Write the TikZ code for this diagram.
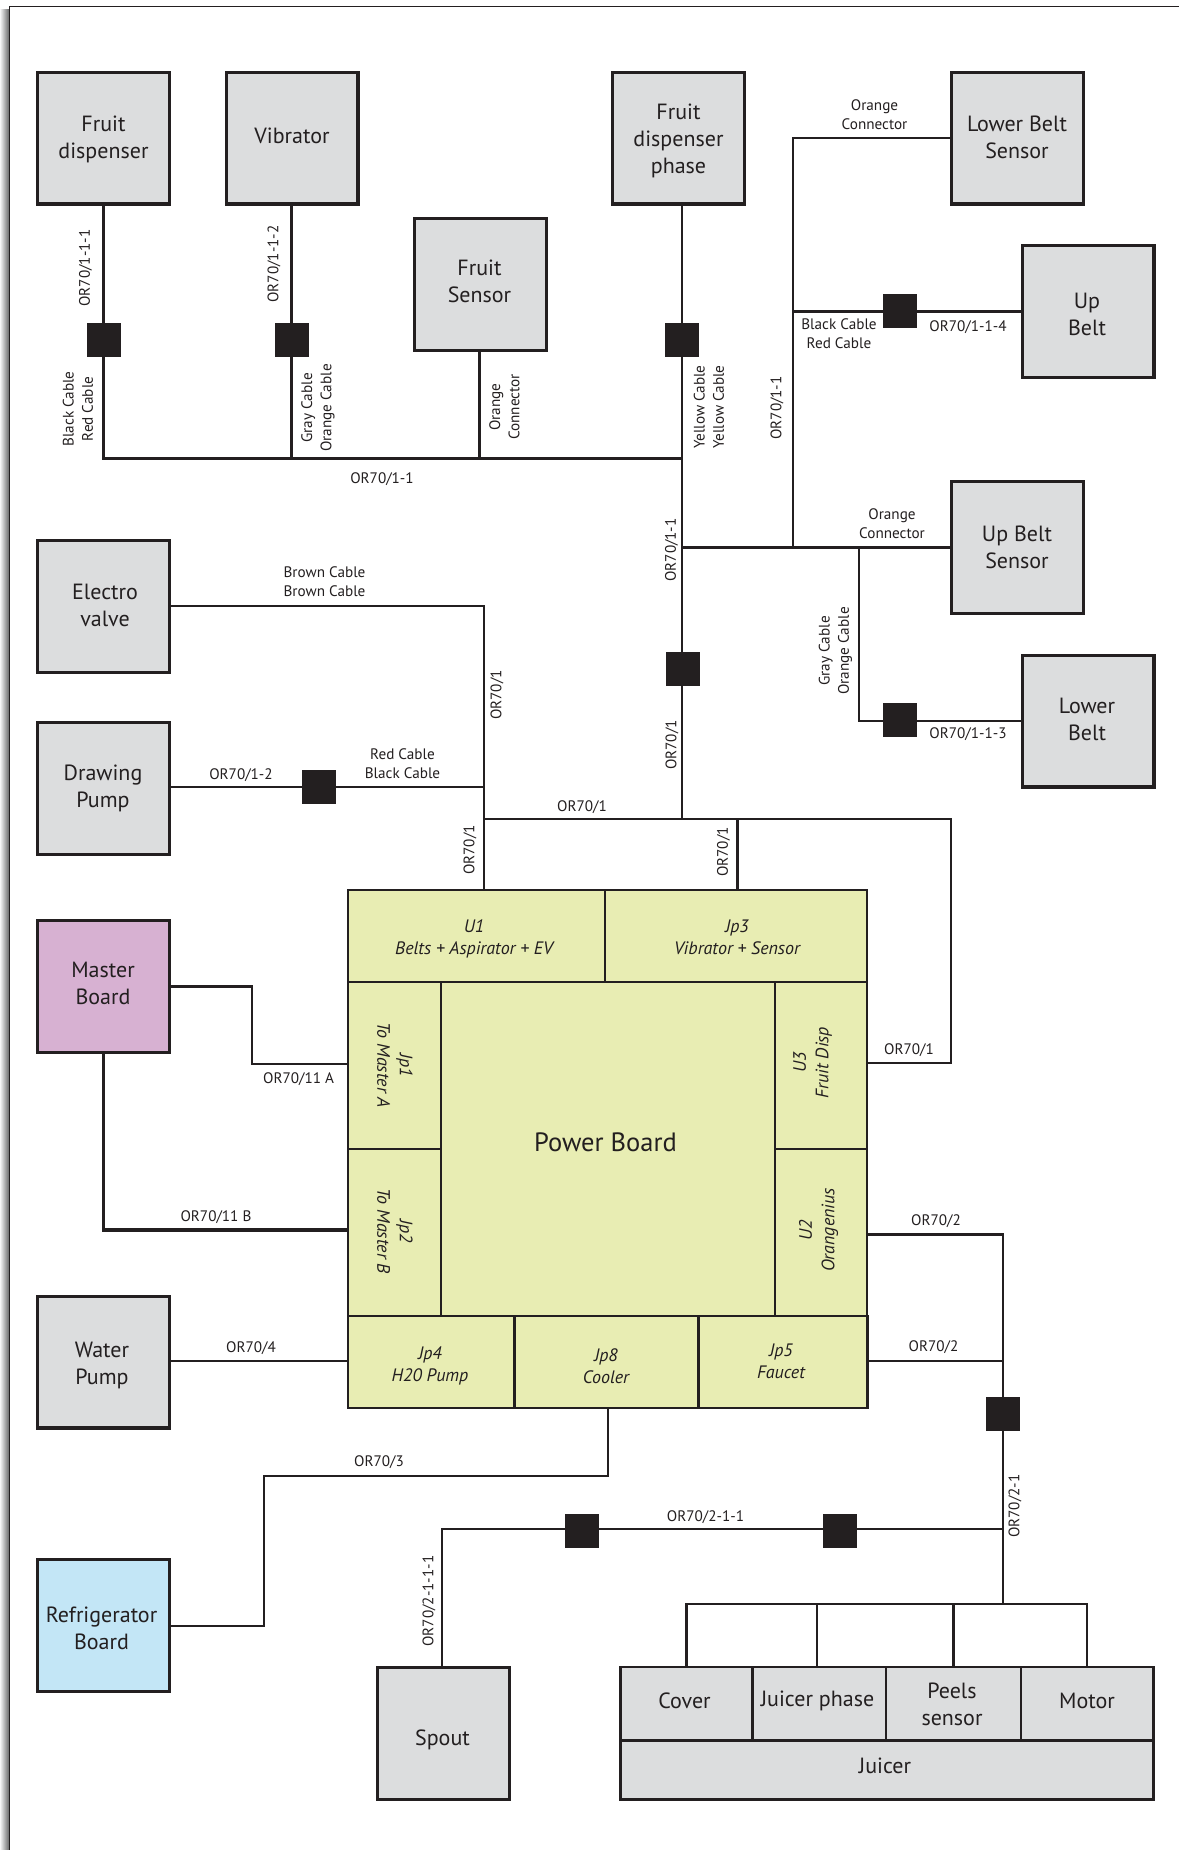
\documentclass[tikz,border=0pt]{standalone}
\usepackage{fontspec}
\setmainfont{PT Sans}
\definecolor{ink}{HTML}{231F20}
\definecolor{boxgray}{HTML}{DCDDDE}
\definecolor{boardgreen}{HTML}{E8EDB3}
\definecolor{masterpink}{HTML}{D7B1D2}
\definecolor{fridgeblue}{HTML}{C3E6F6}
\tikzset{
  devbox/.style={draw=ink,line width=3.2pt,fill=boxgray,inner sep=0pt,outer sep=0pt,minimum width=131.8pt,minimum height=131.8pt},
  devtext/.style={text=ink,align=center,inner sep=0pt,font=\fontsize{22}{27}\selectfont},
  cell/.style={draw=ink,line width=2.6pt,fill=boardgreen,inner sep=0pt,outer sep=0pt},
  jcell/.style={draw=ink,line width=2.8pt,fill=boxgray,inner sep=0pt,outer sep=0pt},
  celltext/.style={text=ink,align=center,inner sep=0pt,font=\fontsize{18}{22.5}\selectfont\itshape},
  wire/.style={draw=ink,line width=2.8pt,line cap=rect},
  splice/.style={fill=ink,draw=none,inner sep=0pt,outer sep=0pt,minimum size=34pt},
  lab/.style={text=ink,align=center,inner sep=0pt,font=\fontsize{15.2}{19.2}\selectfont},
}
\begin{document}
\begin{tikzpicture}[x=1pt,y=-1pt]
\useasboundingbox (0,0) rectangle (1179,1850);
\fill[white] (0,0) rectangle (1179,1850);
\shade[left color=black!3,right color=black!62,shading angle=90] (0,9) rectangle (9.5,1850);
\draw[ink,line width=1.2pt] (9.5,1850) -- (9.5,6.5) -- (1179,6.5);

% junction coordinates
\coordinate (busL) at (103.5,458.5);
\coordinate (busV) at (291.8,458.5);
\coordinate (busS) at (479.7,458.5);
\coordinate (busR) at (682,458.5);
\coordinate (trunkA) at (682,547.6);
\coordinate (trunkB) at (793,547.6);
\coordinate (trunkC) at (859,547.6);
\coordinate (lbsC) at (793,138);
\coordinate (ubC) at (793,311.6);
\coordinate (lowC) at (859,721);
\coordinate (topM) at (682,819);
\coordinate (topL) at (484,819);
\coordinate (topB) at (737.6,819);
\coordinate (topR) at (951,819);
\coordinate (u3C) at (951,1063);
\coordinate (evC) at (484,606);
\coordinate (dpC) at (484,787);
\coordinate (m1) at (252,986.6);
\coordinate (m2) at (252,1064);
\coordinate (m3) at (103.3,1230);
\coordinate (u2C) at (1003,1234.5);
\coordinate (jp5C) at (1003,1361);
\coordinate (outC) at (1003,1529);
\coordinate (spC) at (442,1529);
\coordinate (jbus) at (1003,1604);
\coordinate (cool1) at (608,1476);
\coordinate (cool2) at (264,1476);
\coordinate (cool3) at (264,1626);
\coordinate (jb1) at (686.6,1604);
\coordinate (jb2) at (817,1604);
\coordinate (jb3) at (953.3,1604);
\coordinate (jb4) at (1087,1604);

% wires
\draw[wire] (103.5,205) -- (busL) -- (busR);
\draw[wire] (291.8,205) -- (busV);
\draw[wire] (479.7,352) -- (busS);
\draw[wire] (682,205) -- (topM);
\draw[wire] (trunkA) -- (950,547.6);
\draw[wire] (trunkB) -- (lbsC) -- (950,138);
\draw[wire] (ubC) -- (1021,311.6);
\draw[wire] (trunkC) -- (lowC) -- (1021,721);
\draw[wire] (171,606) -- (evC) -- (484,890);
\draw[wire] (171,787) -- (dpC);
\draw[wire] (topL) -- (topR) -- (u3C) -- (867,1063);
\draw[wire] (topB) -- (737.6,890);
\draw[wire] (171,986.6) -- (m1) -- (m2) -- (348,1064);
\draw[wire,line width=3.2pt] (103.3,1054) -- (m3) -- (348,1230);
\draw[wire] (171,1361) -- (348,1361);
\draw[wire] (867,1234.5) -- (u2C) -- (jbus);
\draw[wire] (867,1361) -- (jp5C);
\draw[wire] (spC) -- (outC);
\draw[wire] (spC) -- (442,1666);
\draw[wire] (608,1408) -- (cool1) -- (cool2) -- (cool3) -- (171,1626);
\draw[wire] (jb1) -- (jb4);
\draw[wire] (jb1) -- (686.6,1666);
\draw[wire] (jb2) -- (817,1666);
\draw[wire] (jb3) -- (953.3,1666);
\draw[wire] (jb4) -- (1087,1666);

% splices
\node[splice] (s1) at (104,340) {};
\node[splice] (s2) at (292,340) {};
\node[splice] (s3) at (682,340) {};
\node[splice] (s4) at (682.5,669) {};
\node[splice] (s5) at (900,311) {};
\node[splice] (s6) at (900,720) {};
\node[splice] (s7) at (319,786.5) {};
\node[splice] (s8) at (1003,1413.5) {};
\node[splice] (s9) at (581.5,1530.5) {};
\node[splice] (s10) at (840,1530.5) {};

% device boxes
\node[devbox] (fd) at (103.5,138) {};
\node[devtext] (fdT) at (103.5,139.5) {Fruit\\dispenser};
\node[devbox] (vib) at (292,138) {};
\node[devtext] (vibT) at (292,136) {Vibrator};
\node[devbox] (fs) at (480.5,284.5) {};
\node[devtext] (fsT) at (479.5,281.5) {Fruit\\Sensor};
\node[devbox] (fdp) at (678.5,138) {};
\node[devtext] (fdpT) at (678.5,140.5) {Fruit\\dispenser\\phase};
\node[devbox] (lbs) at (1017.5,138) {};
\node[devtext] (lbsT) at (1017,137) {Lower Belt\\Sensor};
\node[devbox] (ub) at (1088,311.5) {};
\node[devtext] (ubT) at (1087,314.5) {Up\\Belt};
\node[devbox] (ubs) at (1017.5,547.5) {};
\node[devtext] (ubsT) at (1017,547.5) {Up Belt\\Sensor};
\node[devbox] (lb) at (1088,721) {};
\node[devtext] (lbT) at (1087,719) {Lower\\Belt};
\node[devbox] (ev) at (103.5,606.5) {};
\node[devtext] (evT) at (105,605.5) {Electro\\valve};
\node[devbox] (dp) at (103.5,788.5) {};
\node[devtext] (dpT) at (103,788) {Drawing\\Pump};
\node[devbox,fill=masterpink] (mb) at (103.5,986.5) {};
\node[devtext] (mbT) at (103,983.5) {Master\\Board};
\node[devbox] (wp) at (103.5,1362) {};
\node[devtext] (wpT) at (102,1365) {Water\\Pump};
\node[devbox,fill=fridgeblue] (rb) at (103.5,1625.5) {};
\node[devtext] (rbT) at (101.5,1628.5) {Refrigerator\\Board};
\node[devbox] (sp) at (443.5,1733.5) {};
\node[devtext] (spT) at (442.5,1739.5) {Spout};

% juicer
\node[jcell,minimum width=132.2pt,minimum height=73.5pt] (jc1) at (686.6,1703.75) {};
\node[jcell,minimum width=133.3pt,minimum height=73.5pt] (jc2) at (819.35,1703.75) {};
\node[jcell,minimum width=135pt,minimum height=73.5pt] (jc3) at (953.5,1703.75) {};
\node[jcell,minimum width=132.5pt,minimum height=73.5pt] (jc4) at (1087.25,1703.75) {};
\node[jcell,minimum width=533pt,minimum height=59pt] (jc5) at (887,1770) {};
\node[devtext] at (684.5,1701) (jc1T) {Cover};
\node[devtext] at (817.5,1701) (jc2T) {Juicer phase};
\node[devtext] at (952,1704.5) (jc3T) {Peels\\sensor};
\node[devtext] at (1087,1701) (jc4T) {Motor};
\node[devtext] at (885,1766) (jc5T) {Juicer};

% power board
\node[cell,minimum width=257pt,minimum height=92pt] (u1) at (476.5,936) {};
\node[cell,minimum width=262pt,minimum height=92pt] (jp3) at (736,936) {};
\node[cell,minimum width=93pt,minimum height=167pt] (jp1) at (394.5,1065.5) {};
\node[cell,minimum width=93pt,minimum height=167pt] (jp2) at (394.5,1232.5) {};
\node[cell,minimum width=92pt,minimum height=167pt] (u3) at (821,1065.5) {};
\node[cell,minimum width=92pt,minimum height=167pt] (u2) at (821,1232.5) {};
\node[cell,minimum width=334pt,minimum height=334pt] (pb) at (608,1149) {};
\node[cell,minimum width=167pt,minimum height=92pt] (jp4) at (431.5,1362) {};
\node[cell,minimum width=184pt,minimum height=92pt] (jp8) at (606.5,1362) {};
\node[cell,minimum width=169pt,minimum height=92pt] (jp5) at (783,1362) {};

\node[text=ink,inner sep=0pt,font=\fontsize{26.5}{32}\selectfont] (pbT) at (605.5,1142) {Power Board};
\node[celltext] (t1) at (474,939) {U1\\Belts + Aspirator + EV};
\node[celltext] (t2) at (737,937.5) {Jp3\\Vibrator + Sensor};
\node[celltext,rotate=-90] (t3) at (395,1065) {Jp1\\To Master A};
\node[celltext,rotate=-90] (t4) at (395,1231) {Jp2\\To Master B};
\node[celltext,rotate=90] (t5) at (812.5,1062.5) {U3\\Fruit Disp};
\node[celltext,rotate=90] (t6) at (818.5,1230) {U2\\Orangenius};
\node[celltext] (t7) at (430,1366) {Jp4\\H20 Pump};
\node[celltext] (t8) at (606,1366) {Jp8\\Cooler};
\node[celltext] (t9) at (781,1361.5) {Jp5\\Faucet};

% labels
\node[lab,rotate=90] (l1) at (85.5,268) {OR70/1-1-1};
\node[lab,rotate=90] (l2) at (274,264) {OR70/1-1-2};
\node[lab,rotate=90] (l3) at (78,409) {Black Cable\\Red Cable};
\node[lab,rotate=90] (l4) at (318,408) {Gray Cable\\Orange Cable};
\node[lab,rotate=90] (l5) at (504.5,407) {Orange\\Connector};
\node[lab,rotate=90] (l6) at (709,407) {Yellow Cable\\Yellow Cable};
\node[lab,rotate=90] (l7) at (671.5,550) {OR70/1-1};
\node[lab,rotate=90] (l8) at (672,745) {OR70/1};
\node[lab,rotate=90] (l9) at (777,408) {OR70/1-1};
\node[lab] (l10) at (839,334) {Black Cable\\Red Cable};
\node[lab] (l11) at (968,327) {OR70/1-1-4};
\node[lab] (l12) at (874.5,114.5) {Orange\\Connector};
\node[lab] (l13) at (892,524) {Orange\\Connector};
\node[lab,rotate=90] (l14) at (835.5,651) {Gray Cable\\Orange Cable};
\node[lab] (l15) at (968,734) {OR70/1-1-3};
\node[lab] (l16) at (324.5,582) {Brown Cable\\Brown Cable};
\node[lab,rotate=90] (l17) at (497,695) {OR70/1};
\node[lab] (l18) at (241,775) {OR70/1-2};
\node[lab] (l19) at (402.5,763.5) {Red Cable\\Black Cable};
\node[lab] (l20) at (582,807) {OR70/1};
\node[lab,rotate=90] (l21) at (470,850) {OR70/1};
\node[lab,rotate=90] (l22) at (723.5,852) {OR70/1};
\node[lab] (l23) at (909,1050) {OR70/1};
\node[lab] (l24) at (298.6,1079) {OR70/11 A};
\node[lab] (l25) at (216,1217) {OR70/11 B};
\node[lab] (l26) at (251,1348) {OR70/4};
\node[lab] (l27) at (936,1221.5) {OR70/2};
\node[lab] (l28) at (933.5,1347) {OR70/2};
\node[lab] (l29) at (379,1462) {OR70/3};
\node[lab,rotate=90] (l30) at (429,1601) {OR70/2-1-1-1};
\node[lab] (l31) at (705.5,1517) {OR70/2-1-1};
\node[lab,rotate=90] (l32) at (1015,1506) {OR70/2-1};
\node[lab] (l33) at (382,479) {OR70/1-1};
\end{tikzpicture}
\end{document}
